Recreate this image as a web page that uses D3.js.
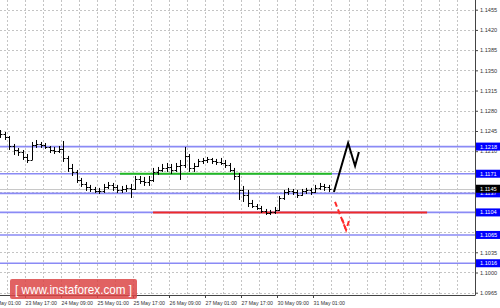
<!DOCTYPE html>
<html><head><meta charset="utf-8">
<script src="https://cdn.jsdelivr.net/npm/d3@7/dist/d3.min.js"></script>
<style>body{margin:0;background:#fff}svg{display:block}</style>
</head><body>
<script>
// ---- data ----
const barIdx = [5,7,9,11,13,15,17,19,21,23,25,27,29,31,33,35,37,39,41,43,45,47,49,51,53,55,57,59,61,63,65,67,69,71,73,75,77,79,81,83,85,87,89,91,93,95,97,99,101,103,105,107,109,111,113,115,117,119,121,123,125,127,129,131,133,135,137,139,141,143,145,147,149,151];
const highs = [1.12467,1.12433,1.12363,1.12225,1.12156,1.12121,1.12052,1.12260,1.12294,1.12260,1.12242,1.12190,1.12173,1.12190,1.12277,1.12018,1.11879,1.11775,1.11637,1.11567,1.11516,1.11481,1.11464,1.11533,1.11567,1.11550,1.11516,1.11498,1.11516,1.11533,1.11671,1.11671,1.11654,1.11671,1.11810,1.11827,1.11879,1.11896,1.11879,1.11896,1.11948,1.12173,1.12052,1.11896,1.11966,1.11983,1.12000,1.11983,1.11966,1.11983,1.11948,1.11896,1.11810,1.11723,1.11498,1.11429,1.11256,1.11186,1.11152,1.11100,1.11083,1.11134,1.11325,1.11429,1.11464,1.11446,1.11429,1.11446,1.11464,1.11464,1.11516,1.11550,1.11533,1.11516];
const lows = [1.12329,1.12294,1.12121,1.12035,1.12018,1.11948,1.11896,1.11948,1.12156,1.12156,1.12139,1.12069,1.12052,1.12069,1.11914,1.11741,1.11671,1.11550,1.11481,1.11412,1.11394,1.11377,1.11360,1.11377,1.11446,1.11412,1.11377,1.11377,1.11394,1.11290,1.11429,1.11533,1.11498,1.11498,1.11567,1.11689,1.11741,1.11741,1.11706,1.11741,1.11602,1.11810,1.11741,1.11741,1.11827,1.11879,1.11896,1.11879,1.11862,1.11862,1.11810,1.11741,1.11602,1.11256,1.11221,1.11134,1.11117,1.11083,1.11031,1.10996,1.10996,1.11013,1.11065,1.11256,1.11342,1.11342,1.11290,1.11325,1.11360,1.11342,1.11377,1.11429,1.11412,1.11394];
const closes = [1.12398,1.12346,1.12190,1.12121,1.12087,1.12000,1.11948,1.12208,1.12225,1.12208,1.12173,1.12121,1.12104,1.12139,1.11983,1.11810,1.11741,1.11602,1.11533,1.11481,1.11446,1.11412,1.11412,1.11481,1.11516,1.11481,1.11429,1.11446,1.11464,1.11446,1.11619,1.11585,1.11567,1.11602,1.11741,1.11775,1.11810,1.11827,1.11775,1.11845,1.11862,1.12018,1.11810,1.11845,1.11931,1.11948,1.11966,1.11931,1.11914,1.11896,1.11862,1.11775,1.11671,1.11429,1.11342,1.11204,1.11152,1.11117,1.11065,1.11031,1.11048,1.11083,1.11290,1.11394,1.11412,1.11394,1.11342,1.11412,1.11429,1.11394,1.11464,1.11498,1.11481,1.11446];

const priceTicks = [1.0965,1.1000,1.1035,1.1070,1.1105,1.1140,1.1175,1.1210,1.1245,1.1280,1.1315,1.1350,1.1385,1.1420,1.1455];
const timeIdx = [0,16,32,48,64,80,96,112,128,144];
const timeLabels = ["23 May 01:00","23 May 17:00","24 May 09:00","25 May 01:00","25 May 17:00","26 May 09:00","27 May 01:00","27 May 17:00","30 May 09:00","31 May 01:00"];

const levelPrices = [1.1218,1.1171,1.1137,1.1104,1.1065,1.1016];
const currentPrice = 1.1145;
const greenLine = {from:58.2, to:152.4, price:1.1171};
const redLine = {from:72.9, to:194.7, price:1.1104};
const blackArrowIdx = [153.3,159.6,162.7,164.4];
const blackArrowPrice = [1.11394,1.12242,1.11845,1.12087];
const redArrowIdx = [153.8,158.7];
const redArrowPrice = [1.11221,1.10736];
const redHeadIdx = [156.9,158.7,160.4];
const redHeadPrice = [1.10927,1.10736,1.10944];

// ---- chart ----
const W=500,H=308, plotR=475, plotB=295;
const svg=d3.select("body").append("svg").attr("width",W).attr("height",H);
const x=d3.scaleLinear().domain([0,144]).range([-11,313]);
const y=d3.scaleLinear().domain([1.0965,1.1455]).range([292.7,9.7]);
const px=v=>Math.round(x(v))+0.5, py=v=>Math.round(y(v))+0.5;

svg.append("defs").append("clipPath").attr("id","plot").append("rect").attr("x",0).attr("y",0).attr("width",plotR).attr("height",plotB);
const g=svg.append("g").attr("clip-path","url(#plot)");

// grid
g.selectAll(".hg").data(priceTicks).join("line")
 .attr("x1",0).attr("x2",plotR).attr("y1",d=>py(d)).attr("y2",d=>py(d))
 .attr("stroke","#c4c4c4").attr("stroke-dasharray","2,2").attr("stroke-width",1);
const vgrid=d3.range(8,220,8);
g.selectAll(".vg").data(vgrid).join("line")
 .attr("x1",d=>px(d)).attr("x2",d=>px(d)).attr("y1",0).attr("y2",plotB)
 .attr("stroke","#c4c4c4").attr("stroke-dasharray","2,2").attr("stroke-width",1);

// current price line
g.append("line").attr("x1",0).attr("x2",plotR).attr("y1",py(currentPrice)).attr("y2",py(currentPrice))
 .attr("stroke","#c8c8c8").attr("stroke-width",1);

// level lines
g.selectAll(".lv").data(levelPrices).join("line")
 .attr("x1",0).attr("x2",plotR).attr("y1",d=>y(d)).attr("y2",d=>y(d))
 .attr("stroke","#8a8af5").attr("stroke-width",1.6);

g.append("line").attr("x1",x(greenLine.from)).attr("x2",x(greenLine.to))
 .attr("y1",y(greenLine.price)).attr("y2",y(greenLine.price)).attr("stroke","#22bb22").attr("stroke-width",2);
g.append("line").attr("x1",x(redLine.from)).attr("x2",x(redLine.to))
 .attr("y1",y(redLine.price)).attr("y2",y(redLine.price)).attr("stroke","#ee2a2a").attr("stroke-width",2);

// bars
const bars=g.selectAll(".bar").data(barIdx).join("g");
bars.append("line").attr("x1",(d)=>px(d)).attr("x2",d=>px(d))
 .attr("y1",(d,i)=>y(highs[i])).attr("y2",(d,i)=>y(lows[i])).attr("stroke","#000").attr("stroke-width",1);
bars.append("line").attr("x1",d=>px(d)).attr("x2",d=>px(d)+2)
 .attr("y1",(d,i)=>py(closes[i])).attr("y2",(d,i)=>py(closes[i])).attr("stroke","#000").attr("stroke-width",1);
bars.append("line").attr("x1",d=>px(d)-2).attr("x2",d=>px(d))
 .attr("y1",(d,i)=>py(i>0?closes[i-1]:highs[i])).attr("y2",(d,i)=>py(i>0?closes[i-1]:highs[i])).attr("stroke","#000").attr("stroke-width",1);

// arrows
const ln=d3.line().x(d=>x(d[0])).y(d=>y(d[1]));
g.append("path").attr("d",ln(blackArrowIdx.map((d,i)=>[d,blackArrowPrice[i]])))
 .attr("fill","none").attr("stroke","#000").attr("stroke-width",2).attr("stroke-linejoin","miter");
g.append("path").attr("d",ln(redArrowIdx.map((d,i)=>[d,redArrowPrice[i]])))
 .attr("fill","none").attr("stroke","#ff2a2a").attr("stroke-width",2).attr("stroke-dasharray","5,3");
g.append("path").attr("d",ln(redHeadIdx.map((d,i)=>[d,redHeadPrice[i]])))
 .attr("fill","none").attr("stroke","#ff2a2a").attr("stroke-width",2).attr("stroke-dasharray","5,3");

// axes
const font='"Liberation Sans", Arial, sans-serif';
const boxPrices=[...levelPrices,currentPrice];
const covered=d=>boxPrices.some(p=>Math.abs(y(p)-y(d))<4);
const ya=svg.append("g").attr("transform",`translate(${plotR},0)`)
 .call(d3.axisRight(y).tickValues(priceTicks).tickFormat(d=>covered(d)?"":d3.format(".4f")(d)).tickSize(3).tickPadding(2));
ya.select(".domain").attr("stroke","#444").attr("d",`M0.5,0V${plotB}.5`);
ya.selectAll(".tick line").attr("stroke","#444");
ya.selectAll("text").attr("font-family",font).attr("font-size","5.6px").attr("fill","#333");

const xa=svg.append("g").attr("transform",`translate(0,${plotB})`)
 .call(d3.axisBottom(x).tickValues(timeIdx).tickFormat((d,i)=>timeLabels[i]).tickSize(3).tickPadding(3));
xa.select(".domain").attr("stroke","#444").attr("d",`M0,0.5H${plotR}`);
xa.selectAll(".tick line").attr("stroke","#444");
xa.selectAll("text").attr("text-anchor","start").attr("font-family",font).attr("font-size","5.2px").attr("fill","#333");

// boxed price labels
const boxes=[...levelPrices.map(p=>({p,c:"#0000ff"})),{p:currentPrice,c:"#000"}];
const bg=svg.selectAll(".box").data(boxes).join("g").attr("transform",d=>`translate(${plotR+1},${y(d.p)})`);
bg.append("rect").attr("x",0).attr("y",-4).attr("width",24).attr("height",8).attr("fill",d=>d.c);
bg.append("text").attr("x",4).attr("y",2).attr("font-family",font).attr("font-size","5.6px").attr("fill","#fff")
 .text(d=>d3.format(".4f")(d.p));

// watermark
const wm=svg.append("g");
wm.append("rect").attr("x",10).attr("y",279).attr("width",127).attr("height",20).attr("rx",2)
 .attr("fill","#dc4646").attr("opacity",0.85);
wm.append("text").attr("x",15).attr("y",294).attr("font-family",font).attr("font-size","13px")
 .attr("fill","#fff").attr("textLength",117).attr("lengthAdjust","spacingAndGlyphs").text("[ www.instaforex.com ]");
</script>
</body></html>
